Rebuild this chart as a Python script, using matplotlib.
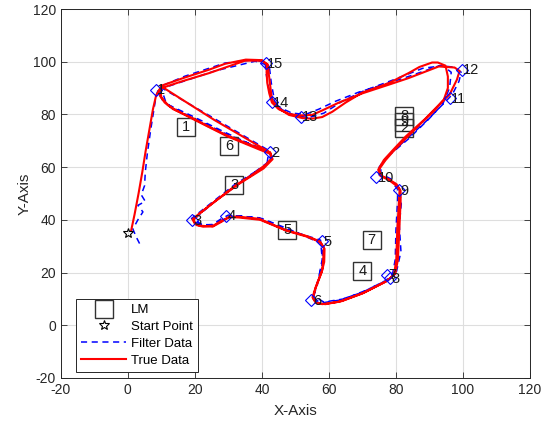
import matplotlib
matplotlib.use("Agg")
import matplotlib.pyplot as plt
from matplotlib.lines import Line2D

plt.rcParams["font.family"] = ["Liberation Sans", "DejaVu Sans"]
plt.rcParams["axes.unicode_minus"] = False

# Waypoints (blue diamonds + numbers)
wp_x = [8.4, 42.4, 19.2, 29.3, 58.0, 54.8, 77.2, 78.2, 80.8, 74.2, 96.1, 99.6, 51.6, 43.0, 41.2]
wp_y = [89.4, 65.8, 39.8, 41.6, 31.8, 9.4, 19.2, 18.0, 51.4, 56.2, 86.2, 97.0, 79.2, 84.8, 99.6]
wp_labels = [str(i) for i in range(1, 16)]

# Landmarks (squares with numbers)
lm_x = [17.3, 82.4, 31.8, 70.0, 47.6, 30.3, 72.8, 82.4, 82.4]
lm_y = [75.2, 74.9, 53.3, 20.5, 36.0, 67.9, 32.2, 79.3, 77.0]
lm_labels = ["1", "2", "3", "4", "5", "6", "7", "8", "9"]

start_x, start_y = 0.0, 35.0

# True trajectory
true_pts = [
    (1.0, 36.0), (2.0, 42.0), (3.2, 50.0), (4.3, 58.0), (5.3, 66.0), (6.4, 74.0),
    (7.5, 82.0), (8.4, 87.0), (9.4, 89.5),
    (9.6, 87.0), (11.0, 84.5), (13.5, 82.0), (19.3, 78.6), (24.0, 75.5), (29.3, 72.2),
    (34.5, 69.5), (39.2, 67.2), (42.5, 65.5), (43.0, 63.5), (41.2, 61.0), (37.0, 57.0),
    (32.3, 53.2), (25.3, 46.3), (21.0, 42.0), (19.3, 40.2), (20.0, 38.5), (21.5, 37.8),
    (25.3, 37.4), (28.0, 39.3), (30.3, 41.2), (33.0, 41.2), (39.2, 40.4), (47.1, 36.1),
    (53.0, 34.0), (57.0, 32.0), (58.5, 29.5), (58.3, 25.0), (58.0, 20.9), (56.1, 14.6),
    (55.1, 10.6), (56.0, 8.6), (58.0, 8.0), (63.0, 8.9), (69.9, 12.0), (76.9, 16.5),
    (79.4, 19.0), (80.1, 24.7), (80.4, 36.1), (80.9, 47.5), (81.1, 51.5), (79.9, 53.2),
    (77.9, 55.1), (75.4, 56.6), (74.7, 59.0), (76.4, 62.7), (78.9, 66.2), (82.9, 71.6),
    (88.8, 78.4), (93.8, 84.9), (96.0, 87.5), (98.2, 93.2), (99.0, 96.5), (97.5, 97.8),
    (92.8, 98.2), (83.8, 93.8), (77.9, 91.3), (70.0, 88.0), (63.0, 84.5), (58.0, 81.5),
    (55.0, 79.8), (51.1, 79.6), (48.1, 80.2), (45.0, 82.0), (43.0, 84.5), (42.2, 88.0),
    (41.6, 92.0), (41.4, 96.0), (41.5, 99.0), (40.0, 100.6), (35.2, 100.8), (29.0, 99.2),
    (24.3, 97.0), (17.0, 94.0), (9.8, 90.8),
    (25.8, 77.9), (42.4, 65.6), (43.2, 63.0), (40.5, 59.5), (33.0, 53.5), (26.0, 47.0),
    (21.5, 42.5), (19.6, 40.0), (20.5, 38.0), (22.5, 37.4), (25.5, 37.8), (28.5, 40.0),
    (30.5, 41.0), (33.0, 40.9), (39.5, 40.0), (47.5, 35.8), (53.5, 33.6), (57.5, 31.5),
    (58.7, 29.0), (58.6, 24.0), (57.8, 20.0), (56.0, 14.0), (55.3, 10.5), (56.5, 8.3),
    (59.0, 8.0), (64.0, 9.2), (70.5, 12.4), (77.3, 16.8), (79.8, 19.5), (80.6, 25.0),
    (81.0, 36.0), (81.4, 47.0), (81.4, 51.0), (80.2, 53.5), (78.0, 55.3), (75.6, 56.8),
    (75.0, 59.2), (76.8, 62.5), (79.2, 66.0), (83.2, 71.2), (87.8, 77.0), (91.5, 81.5),
    (94.3, 85.6), (95.5, 90.0), (95.5, 94.4), (94.8, 98.5), (92.5, 99.7), (90.8, 99.7),
    (87.0, 98.0), (83.8, 95.7), (77.9, 91.9), (70.0, 88.3), (65.0, 84.5), (61.0, 81.0),
    (58.0, 79.0), (55.0, 78.4), (52.1, 78.6), (48.1, 79.8), (44.8, 82.5), (43.0, 85.5),
    (42.4, 91.9), (42.0, 96.0), (41.8, 98.9), (40.0, 100.4), (35.0, 100.4), (24.3, 95.7),
    (16.0, 92.5), (9.6, 89.8),
    (10.0, 86.5), (12.0, 83.5), (14.5, 81.5), (19.5, 78.2), (29.5, 71.8), (39.0, 66.8),
    (42.6, 65.0),
]
true_x = [p[0] for p in true_pts]
true_y = [p[1] for p in true_pts]

# Filtered estimate
filt_pts = [
    (3.5, 31.0), (2.5, 33.5), (1.5, 36.5), (3.0, 40.0), (4.5, 43.0), (3.0, 45.5),
    (5.2, 47.0), (4.0, 49.5), (5.0, 53.0), (5.2, 58.0), (5.8, 65.0), (6.8, 74.0),
    (7.8, 82.0), (8.5, 87.5), (9.0, 89.0), (10.5, 85.0), (13.5, 82.5), (19.0, 79.0),
    (29.0, 72.8), (39.0, 67.5), (42.0, 65.5), (41.5, 61.0), (32.0, 53.5), (25.0, 46.5),
    (19.0, 40.5), (21.0, 38.5), (25.0, 38.0), (28.0, 40.5), (30.0, 41.8), (39.0, 40.8),
    (47.0, 36.5), (57.5, 32.3), (58.0, 25.0), (56.5, 15.0), (55.0, 10.0), (58.0, 8.5),
    (63.0, 9.5), (70.0, 12.5), (77.0, 17.0), (79.0, 19.5), (79.8, 25.0), (80.0, 36.0),
    (80.5, 47.5), (80.6, 51.5), (78.0, 55.5), (75.0, 57.0), (75.0, 60.0), (77.0, 63.5),
    (83.5, 71.0), (89.5, 78.0), (94.5, 84.5), (96.8, 87.5), (98.8, 92.5), (99.5, 96.0),
    (97.0, 98.0), (93.0, 98.5), (84.0, 94.5), (78.0, 92.0), (69.0, 88.5), (62.0, 85.0),
    (57.0, 82.0), (53.0, 80.0), (49.0, 80.5), (45.5, 82.5), (43.5, 85.0), (42.0, 90.0),
    (41.2, 96.0), (41.0, 99.5), (38.0, 100.8), (29.0, 99.5), (17.0, 94.5), (9.5, 90.5),
    (26.0, 78.3), (42.5, 66.0), (42.5, 62.5), (33.5, 54.0), (26.5, 47.5), (20.0, 40.5),
    (22.0, 38.0), (26.0, 38.3), (29.5, 40.8), (33.0, 41.5), (40.0, 40.5), (48.0, 36.5),
    (57.8, 31.0), (58.2, 24.0), (56.5, 16.0), (55.5, 11.0), (58.5, 8.8), (64.5, 10.0),
    (71.0, 13.2), (78.0, 17.5), (80.2, 20.5), (81.5, 28.0), (81.0, 38.0), (81.6, 46.0),
    (81.0, 52.0), (78.5, 55.5), (75.5, 57.5), (75.5, 60.5), (78.0, 64.5), (84.0, 71.0),
    (90.0, 78.5), (94.0, 84.0), (96.0, 90.0), (96.5, 96.0), (94.0, 98.5), (88.0, 97.5),
    (79.0, 93.0), (70.5, 89.0), (64.0, 85.0), (58.5, 80.5), (54.0, 78.8), (50.0, 79.5),
    (46.0, 81.8), (43.8, 85.0), (42.8, 92.0), (42.2, 98.5), (38.0, 100.2), (26.0, 96.5),
    (10.0, 89.8), (11.5, 84.0), (19.0, 79.5), (29.0, 73.2), (38.5, 67.5), (42.3, 65.5),
]
filt_x = [p[0] for p in filt_pts]
filt_y = [p[1] for p in filt_pts]

fig = plt.figure(figsize=(5.43, 4.29), dpi=100)
ax = fig.add_axes([0.112, 0.119, 0.864, 0.860])

dark = "#262626"

# landmarks
ax.plot(lm_x, lm_y, "s", markersize=13, markerfacecolor="none",
        markeredgecolor="#333333", markeredgewidth=1.0, zorder=3)
for x, y, t in zip(lm_x, lm_y, lm_labels):
    ax.text(x, y, t, ha="center", va="center", fontsize=10.5, color="#1a1a1a", zorder=4)

# start point
ax.plot(start_x, start_y, "*", markersize=7, markerfacecolor="none",
        markeredgecolor="black", markeredgewidth=0.8, zorder=5)

# trajectories
ax.plot(filt_x, filt_y, "--", color="blue", linewidth=1.1, dashes=(4, 3), zorder=2)
ax.plot(true_x, true_y, "-", color="red", linewidth=1.5, zorder=3)

# waypoints
ax.plot(wp_x, wp_y, "D", markersize=6, markerfacecolor="none",
        markeredgecolor="blue", markeredgewidth=0.8, zorder=4)
for x, y, t in zip(wp_x, wp_y, wp_labels):
    ax.text(x + 0.4, y - 0.3, t, ha="left", va="center", fontsize=10.5,
            color="#1a1a1a", zorder=5)

ax.set_xlim(-20, 120)
ax.set_ylim(-20, 120)
ax.set_xticks(range(-20, 121, 20))
ax.set_yticks(range(-20, 121, 20))
ax.grid(True, color="#dedede", linewidth=0.8)
ax.set_axisbelow(True)
ax.tick_params(direction="in", top=True, right=True, length=4, width=0.6,
               labelsize=10, colors=dark, labelcolor=dark)
for s in ax.spines.values():
    s.set_color(dark)
    s.set_linewidth(0.7)
ax.set_xlabel("X-Axis", fontsize=11, color=dark, labelpad=5)
ax.set_ylabel("Y-Axis", fontsize=11, color=dark, labelpad=1)

handles = [
    Line2D([], [], linestyle="none", marker="s", markersize=13,
           markerfacecolor="none", markeredgecolor="#333333", markeredgewidth=1.0),
    Line2D([], [], linestyle="none", marker="*", markersize=7,
           markerfacecolor="none", markeredgecolor="black", markeredgewidth=0.8),
    Line2D([], [], linestyle="--", color="blue", linewidth=1.1, dashes=(4, 3)),
    Line2D([], [], linestyle="-", color="red", linewidth=1.5),
]
leg = ax.legend(handles, ["LM", "Start Point", "Filter Data", "True Data"],
                loc="lower left", bbox_to_anchor=(0.032, 0.016), borderaxespad=0,
                fontsize=9.5, handlelength=3.4, handletextpad=0.4, labelspacing=0.35,
                fancybox=False, framealpha=1, edgecolor=dark, borderpad=0.4)
leg.get_frame().set_linewidth(0.7)

fig.savefig("out.png", dpi=100)
